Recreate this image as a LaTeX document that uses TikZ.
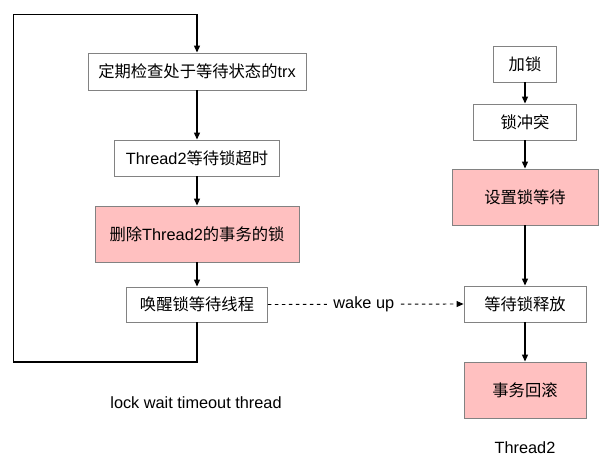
\documentclass[tikz,border=0pt]{standalone}
\usepackage{fontspec}
\setmainfont{Liberation Sans}
\newfontfamily\cjk{Noto Sans CJK SC}
\usetikzlibrary{arrows.meta}
\definecolor{boxgray}{RGB}{130,130,130}
\definecolor{pinkfill}{RGB}{255,192,192}
\begin{document}
\begin{tikzpicture}[x=1pt,y=-1pt,
  every node/.style={font=\fontsize{16.3}{19}\selectfont},
  box/.style={draw=boxgray, line width=0.9pt, fill=white, inner sep=0pt, align=center},
  pinkbox/.style={box, fill=pinkfill},
  arr/.style={line width=1.2pt, -{Triangle[length=7pt,width=6pt]}},
  wire/.style={line width=1.2pt},
  dashedarr/.style={line width=0.9pt, dash pattern=on 3.5pt off 3.5pt, -{Triangle[length=7pt,width=6pt]}}
]
\useasboundingbox (0,0) rectangle (610,476);
\fill[white] (0,0) rectangle (610,476);

% left column
\node[box, minimum width=218pt, minimum height=37pt] (b1) at (197,71.5) {{\cjk 定期检查处于等待状态的}trx};
\node[box, minimum width=165pt, minimum height=36pt] (b2) at (197,158) {Thread2{\cjk 等待锁超时}};
\node[pinkbox, minimum width=204pt, minimum height=56pt] (b3) at (197,234) {{\cjk 删除}Thread2{\cjk 的事务的锁}};
\node[box, minimum width=141pt, minimum height=35pt] (b4) at (197,304.5) {{\cjk 唤醒锁等待线程}};
\node (lt) at (196,403) {lock wait timeout thread};

% right column
\node[box, minimum width=63pt, minimum height=36pt] (r1) at (525,64) {{\cjk 加锁}};
\node[box, minimum width=103pt, minimum height=36pt] (r2) at (525,122) {{\cjk 锁冲突}};
\node[pinkbox, minimum width=146pt, minimum height=56pt] (r3) at (525,197) {{\cjk 设置锁等待}};
\node[box, minimum width=122pt, minimum height=36pt] (r4) at (525,304) {{\cjk 等待锁释放}};
\node[pinkbox, minimum width=122pt, minimum height=56pt] (r5) at (525,390) {{\cjk 事务回滚}};
\node (t2) at (525,448) {Thread2};

% loop corners
\coordinate (c1) at (197,362);
\coordinate (c2) at (13.5,362);
\coordinate (c3) at (13.5,14.5);
\coordinate (c4) at (197,14.5);

\draw[wire] (b4.south) -- (c1) -- (c2) -- (c3) -- (c4);
\draw[arr] (c4) -- (b1.north);
\draw[arr] (b1) -- (b2);
\draw[arr] (b2) -- (b3);
\draw[arr] (b3) -- (b4);

\draw[arr] (r1) -- (r2);
\draw[arr] (r2) -- (r3);
\draw[arr] (r3) -- (r4);
\draw[arr] (r4) -- (r5);

\draw[dashedarr] (b4.east) -- node[fill=white, inner xsep=6pt, inner ysep=3pt, pos=0.49] (wu) {wake up} (r4.west);
\end{tikzpicture}
\end{document}
